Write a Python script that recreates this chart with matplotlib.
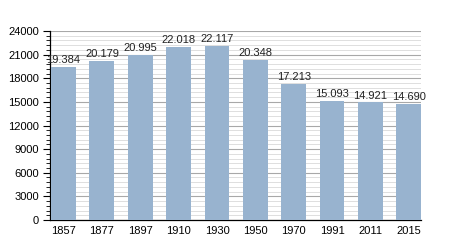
import matplotlib
matplotlib.use('Agg')
import matplotlib.pyplot as plt
import numpy as np
from matplotlib.ticker import MultipleLocator

years = ['1857', '1877', '1897', '1910', '1930', '1950', '1970', '1991', '2011', '2015']
population = [19384, 20179, 20995, 22018, 22117, 20348, 17213, 15093, 14921, 14690]
labels = ['19.384', '20.179', '20.995', '22.018', '22.117', '20.348', '17.213', '15.093', '14.921', '14.690']

plt.rcParams['font.family'] = ['Liberation Sans', 'DejaVu Sans']

fig = plt.figure(figsize=(4.5, 2.5), dpi=100)
ax = fig.add_axes([0.111, 0.12, 0.825, 0.756])

x = np.arange(len(years))
w = 0.65
ax.bar(x, population, width=w, align='edge', color='#98b3cf', zorder=3)
for xi, v, lab in zip(x, population, labels):
    ax.text(xi + w / 2, v + 250, lab, ha='center', va='bottom', fontsize=8, color='#222222', zorder=4)

ax.set_xlim(-0.03, len(years) - 1 + w)
ax.set_ylim(0, 24000)
ax.set_xticks(x + w / 2)
ax.set_xticklabels(years, fontsize=8)
ax.tick_params(axis='x', length=0, pad=4)

ax.yaxis.set_major_locator(MultipleLocator(3000))
ax.yaxis.set_minor_locator(MultipleLocator(600))
ax.tick_params(axis='y', which='major', length=5, width=0.8, labelsize=8, pad=3)
ax.tick_params(axis='y', which='minor', length=3, width=0.6)
ax.grid(axis='y', which='major', color='#a8a8a8', linewidth=0.8, zorder=0)
ax.grid(axis='y', which='minor', color='#dedede', linewidth=0.7, zorder=0)

for s in ['top', 'right']:
    ax.spines[s].set_visible(False)
ax.spines['left'].set_linewidth(0.9)
ax.spines['bottom'].set_linewidth(0.9)
ax.set_axisbelow(True)

fig.savefig('out.png', dpi=100)
